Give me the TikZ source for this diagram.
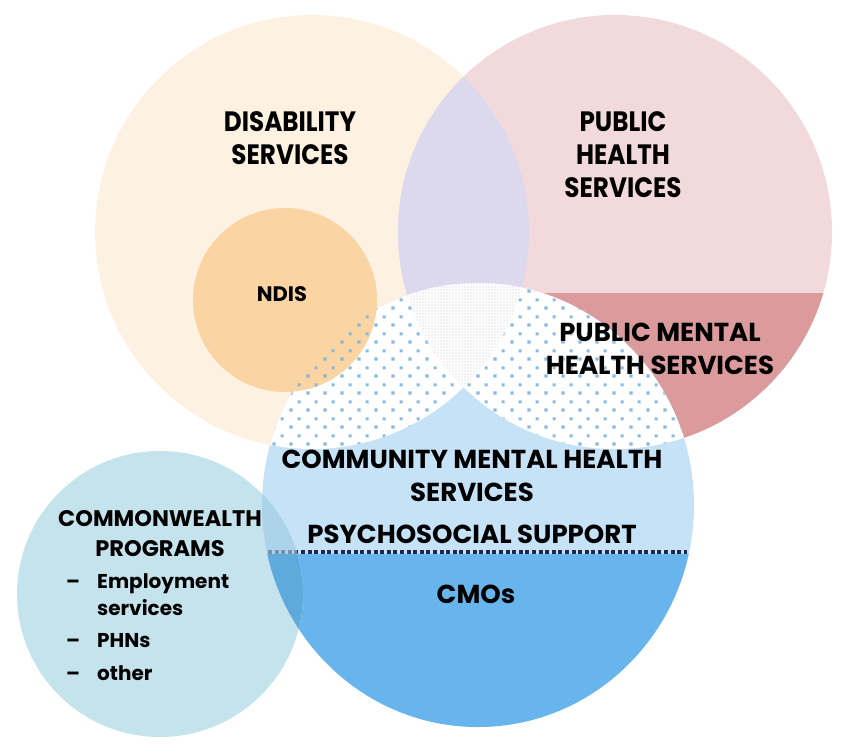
\documentclass[tikz,border=0pt]{standalone}
\usepackage{fontspec}
\setmainfont{Poppins}
\newfontfamily\bigfont{Poppins}[FakeStretch=0.88]
\usetikzlibrary{patterns.meta}
\tikzdeclarepattern{
  name=bluedots,
  type=uncolored,
  bounding box={(0pt,0pt) and (17pt,17pt)},
  tile size={(17pt,17pt)},
  code={
    \pgfpathrectangle{\pgfpoint{0.5pt}{0.5pt}}{\pgfpoint{3.2pt}{3.2pt}}
    \pgfpathrectangle{\pgfpoint{9pt}{9pt}}{\pgfpoint{3.2pt}{3.2pt}}
    \pgfusepath{fill}
  }
}
\definecolor{peach}{HTML}{FDF1E2}
\definecolor{pinkph}{HTML}{F2D9DB}
\definecolor{lavender}{HTML}{DCD9EE}
\definecolor{darkred}{HTML}{DB9B9C}
\definecolor{ndisorange}{HTML}{FAD4A2}
\definecolor{lightblue}{HTML}{C6E2F7}
\definecolor{darkblue}{HTML}{68B5EE}
\definecolor{dotblue}{HTML}{7DB3DF}
\definecolor{finedot}{HTML}{BFC8D4}
\definecolor{navyline}{HTML}{1B2A4A}
\definecolor{cwfill}{HTML}{C5E3EC}
\definecolor{cwlight}{HTML}{ABD4EA}
\definecolor{cwdark}{HTML}{5EAADC}
\definecolor{cwline}{HTML}{7890A8}
\begin{document}
\begin{tikzpicture}[x=1pt,y=-1pt,
  lbl/.style={inner sep=0pt,align=center,text=black},
  big/.style={lbl,font=\bigfont\fontsize{28}{33}\selectfont\bfseries},
  mid/.style={lbl,font=\fontsize{26}{33}\selectfont\bfseries},
  small/.style={lbl,font=\fontsize{22.5}{30}\selectfont\bfseries},
  item/.style={inner sep=0pt,align=left,text=black,font=\fontsize{20}{27}\selectfont\bfseries},
  dotline/.style={line width=4pt,dash pattern=on 4pt off 2.6pt}]
\useasboundingbox (0,0) rectangle (850,752);
\coordinate (cD) at (312,232);
\coordinate (cP) at (615,232);
\coordinate (cB) at (478,505);
\coordinate (cN) at (285,300);
\coordinate (cC) at (160,594);
\coordinate (dl) at (268,552);
\coordinate (dr) at (687,552);
% disability and public health circles
\fill[peach] (cD) circle (217pt);
\fill[pinkph] (cP) circle (217pt);
\begin{scope}
  \clip (cP) circle (217pt);
  \fill[darkred] (380,293) rectangle (850,460);
\end{scope}
\begin{scope}
  \clip (cD) circle (217pt);
  \fill[lavender] (cP) circle (217pt);
\end{scope}
% community mental health circle
\fill[lightblue] (cB) ellipse (216pt and 222pt);
\begin{scope}
  \clip (cB) ellipse (216pt and 222pt);
  \fill[white] (cD) circle (217pt);
  \fill[white] (cP) circle (217pt);
  \clip (cD) circle (217pt);
  \fill[pattern={Dots[distance=3pt,radius=0.6pt]},pattern color=finedot] (cP) circle (217pt);
\end{scope}
% NDIS
\fill[ndisorange] (cN) circle (92pt);
% blue dots
\begin{scope}
  \clip (cB) ellipse (216pt and 222pt);
  \begin{scope}[even odd rule]
    \clip (cD) circle (217pt) (cP) circle (217pt);
    \fill[pattern=bluedots,pattern color=dotblue,fill opacity=0.9] (0,0) rectangle (850,752);
  \end{scope}
\end{scope}
% CMOs part
\begin{scope}
  \clip (cB) ellipse (216pt and 222pt);
  \fill[darkblue] (250,554) rectangle (700,740);
\end{scope}
\draw[navyline,dotline] (dl) -- (dr);
% commonwealth circle
\fill[cwfill] (cC) circle (143pt);
\begin{scope}
  \clip (cC) circle (143pt);
  \fill[cwlight] (cB) ellipse (216pt and 222pt);
  \draw[cwline,dotline] (dl) -- (dr);
  \clip (cB) ellipse (216pt and 222pt);
  \fill[cwdark] (250,554) rectangle (700,740);
\end{scope}
% labels
\node[big] (tDis) at (290,138) {DISABILITY\\SERVICES};
\node[big] (tPH) at (623,155) {PUBLIC\\HEALTH\\SERVICES};
\node[lbl,font=\fontsize{21}{30}\selectfont\bfseries] (tNDIS) at (282,294) {NDIS};
\node[mid] (tPMH) at (660,348.5) {PUBLIC MENTAL\\HEALTH SERVICES};
\node[mid] (tCMH) at (472,476) {COMMUNITY MENTAL HEALTH\\SERVICES};
\node[mid] (tPS) at (472,534) {PSYCHOSOCIAL SUPPORT};
\node[mid] (tCMO) at (476,594) {CMOs};
\node[small] (tCW) at (160,534) {COMMONWEALTH\\PROGRAMS};
\node[item,anchor=base] (d1) at (73,588) {–};
\node[item,anchor=base west] (i1) at (97,615) {Employment\\services};
\node[item,anchor=base] (d2) at (73,647) {–};
\node[item,anchor=base west] (i2) at (97,647) {PHNs};
\node[item,anchor=base] (d3) at (73,680) {–};
\node[item,anchor=base west] (i3) at (97,680) {other};
\end{tikzpicture}
\end{document}
